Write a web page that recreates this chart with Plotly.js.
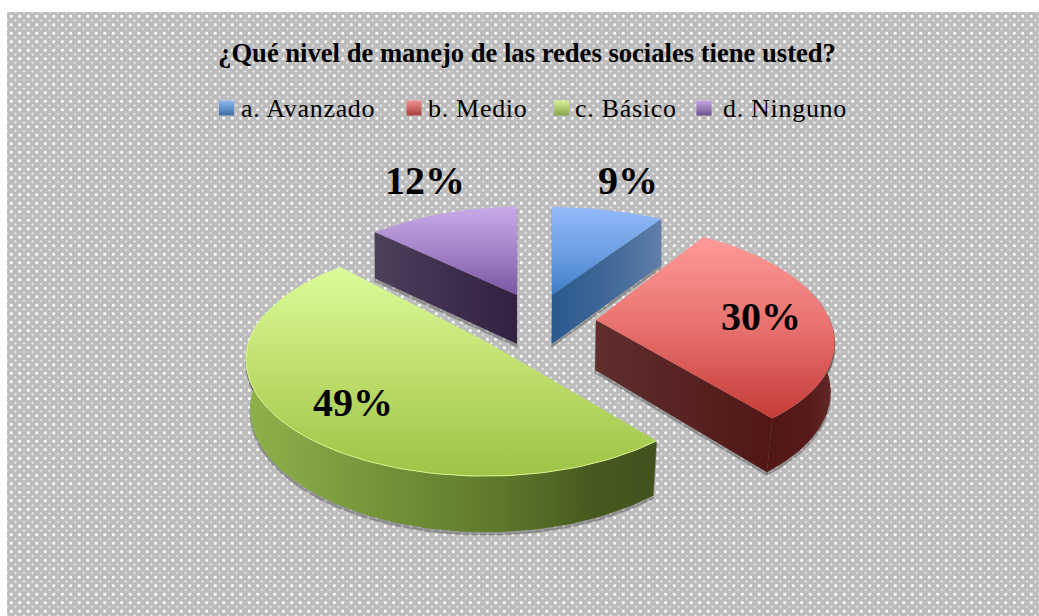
<!DOCTYPE html>
<html>
<head>
<meta charset="utf-8">
<script src="https://cdn.plot.ly/plotly-3.0.1.min.js"></script>
<style>
html,body{margin:0;padding:0;background:#fff;overflow:hidden}
#wrap{position:relative;width:1039px;height:616px;background:#fff}
#bg{position:absolute;left:7px;top:12px;right:0;bottom:0;background-color:#bcbcbc;
background-image:radial-gradient(circle at center,#fff 0,#fff 1.2px,rgba(255,255,255,0) 1.8px),radial-gradient(circle at center,#f0f0f0 0,#f0f0f0 .8px,rgba(255,255,255,0) 1.3px);
background-size:8.5px 8.5px,8.5px 8.5px;background-position:0 0,4.25px 4.25px}
#chart{position:absolute;left:0;top:0;width:1039px;height:616px}
.legendtext{letter-spacing:.7px}
</style>
</head>
<body>
<div id="wrap"><div id="bg"></div><div id="chart"></div></div>
<script>
const categories=['a. Avanzado','b. Medio','c. Básico','d. Ninguno'];
const values=[9,30,49,12];
const titleText='¿Qué nivel de manejo de las redes sociales tiene usted?';

const swatchColors=['#3f6fa8','#a8403d','#86a548','#6c5290'];
const swatchLight=['#8fb8f0','#f09090','#d8f098','#c4a8e4'];
const apexes=[[552,295],[596,320],[485,341],[517,295]];
const sliceA=[238,234,236,238];
const sliceB=[102.5,112,113.5,82];
const sliceP=[.2,.2,.16,.2];
const slicePy=[.165,.16,.16,-.07];
const topScales=[
 [[0,'#93bafa'],[.5,'#6fa0e4'],[1,'#3d7cc6']],
 [[0,'#ff9a98'],[.5,'#e8716d'],[1,'#c63c38']],
 [[0,'#dcfc9c'],[.5,'#bede6c'],[1,'#9cc445']],
 [[0,'#c8aae8'],[.5,'#a484c8'],[1,'#7a57a2']]
];
const cutScales=[
 [[0,'#2a5a90'],[.5,'#3f6797'],[1,'#607ea9']],
 [[0,'#5f2f2d'],[.6,'#56201f'],[1,'#511716']],
 null,
 [[0,'#4b4059'],[.5,'#3f2f4f'],[1,'#322140']]
];
const wallScale=[
 null,
 [[0,'#511716'],[.6,'#561a19'],[1,'#622a28']],
 [[0,'#8fb24c'],[.3,'#76963a'],[.6,'#5f7a2c'],[.85,'#47591f'],[1,'#41521d']],
 null
];
const cutEdge=['end','end',null,'start'];
const wallFrom=[null,75,null,null];
const wallTo=[null,null,285,null];
const labelX=[628,761,353,425];
const labelY=[184,320,406,184];
const legendSwatchX=[226.5,414,561.5,704];
const legendTextX=[241,428,575,723];
const legendCenterY=108;

const rad=d=>d*Math.PI/180;
function proj(i,deg){
  const u=Math.sin(rad(deg)),v=Math.cos(rad(deg));
  return [apexes[i][0]+sliceA[i]*u/(1+sliceP[i]*v),apexes[i][1]-sliceB[i]*v/(1+slicePy[i]*v)];
}
function drop(p){
  const d=46+(p[1]-219)*.039;
  const s=1-.025*(p[1]-219)/230;
  return [520+(p[0]-520)*s,p[1]+d];
}
function arc(i,a,b){
  const n=Math.max(2,Math.ceil(Math.abs(b-a)/1.5)),o=[];
  for(let k=0;k<=n;k++)o.push(proj(i,a+(b-a)*k/n));
  return o;
}
function flip(scale){return scale.map(s=>[1-s[0],s[1]]).reverse();}
function poly(pts,scale,type){
  const c=pts.concat([pts[0]]);
  return {x:c.map(p=>p[0]),y:c.map(p=>p[1]),mode:'lines',fill:'toself',
    line:{width:0},fillcolor:'rgba(0,0,0,0)',
    fillgradient:{type:type,colorscale:type==='vertical'?flip(scale):scale},hoverinfo:'skip',showlegend:false};
}
function shadow(pts){
  const c=pts.concat([pts[0]]);
  return {x:c.map(p=>p[0]),y:c.map(p=>p[1]+3),mode:'lines',fill:'toself',
    fillcolor:'rgba(70,70,70,.35)',line:{width:1.5,color:'rgba(70,70,70,.25)'},hoverinfo:'skip',showlegend:false};
}

const total=values.reduce((s,v)=>s+v,0);
const under=[],over=[];
let acc=0;
values.forEach((v,i)=>{
  const a=acc/total*360,b=(acc+v)/total*360;acc+=v;
  const apex=apexes[i],top=[apex].concat(arc(i,a,b));
  if(cutEdge[i]){
    const e=proj(i,cutEdge[i]==='end'?b:a);
    const face=[apex,e,drop(e),drop(apex)];
    under.push(shadow(face));
    over.push(poly(face,cutScales[i],'horizontal'));
  }
  if(wallScale[i]){
    const from=wallFrom[i]===null?a:wallFrom[i],to=wallTo[i]===null?b:wallTo[i];
    const ar=arc(i,from,to);
    const wall=ar.concat(ar.slice().reverse().map(drop));
    under.push(shadow(wall));
    over.push(poly(wall,wallScale[i],'horizontal'));
  }
  under.push(shadow(top));
  over.push(poly(top,topScales[i],'vertical'));
  if(i===2){
    const rim=arc(i,a,wallTo[i]);
    over.push({x:rim.map(p=>p[0]),y:rim.map(p=>p[1]),mode:'lines',line:{width:1,color:'#dff58f'},hoverinfo:'skip',showlegend:false});
  }
});

const legendTraces=categories.map((c,i)=>({x:[null],y:[null],name:c,mode:'markers',
  marker:{symbol:'square',size:15,color:swatchLight[i],gradient:{type:'vertical',color:swatchColors[i]},line:{width:0}},
  hoverinfo:'skip'}));
const labels={x:labelX,y:labelY,mode:'text',text:values.map(v=>v+'%'),textposition:'middle center',
  textfont:{family:'"Liberation Serif",serif',size:40,color:'#000',weight:'bold'},hoverinfo:'skip',showlegend:false};

function placeLegend(){
  const root=document.querySelector('#chart .legend');
  if(!root)return;
  const sb=root.querySelector('.scrollbox');
  if(sb)sb.removeAttribute('clip-path');
  root.querySelectorAll('g.traces').forEach((g,i)=>{
    const pt=g.querySelector('.legendpoints path'),tx=g.querySelector('.legendtext');
    if(!pt||!tx)return;
    const m=/translate\(([-\d.]+)[ ,]*([-\d.]*)/.exec(g.getAttribute('transform')||'')||[0,0,0];
    const r=pt.getBoundingClientRect();
    const nx=+m[1]+legendSwatchX[i]-(r.left+r.width/2),ny=+(m[2]||0)+legendCenterY-(r.top+r.height/2);
    g.setAttribute('transform','translate('+nx+','+ny+')');
    const t=tx.getBoundingClientRect();
    tx.setAttribute('x',(+tx.getAttribute('x')||0)+legendTextX[i]-t.left);
    tx.setAttribute('y',(+tx.getAttribute('y')||0)+legendCenterY-(t.top+t.height/2)+(r.top+r.height/2-legendCenterY)*0);
  });
}

const gd=document.getElementById('chart');
Plotly.newPlot(gd,under.concat(over,legendTraces,[labels]),{
  width:1039,height:616,margin:{l:0,r:0,t:0,b:0},
  paper_bgcolor:'rgba(0,0,0,0)',plot_bgcolor:'rgba(0,0,0,0)',
  title:{text:'<b>'+titleText+'</b>',x:527/1039,xanchor:'center',y:1-53/616,yanchor:'middle',
    font:{family:'"Liberation Serif",serif',size:26.6,color:'#000'}},
  xaxis:{range:[0,1039],visible:false,fixedrange:true},
  yaxis:{range:[616,0],visible:false,fixedrange:true},
  showlegend:true,
  legend:{orientation:'h',x:532/1039,xanchor:'center',y:1-106/616,yanchor:'middle',
    bgcolor:'rgba(0,0,0,0)',font:{family:'"Liberation Serif",serif',size:26,color:'#000'},traceorder:'normal'}
},{displayModeBar:false}).then(placeLegend);
</script>
</body>
</html>
